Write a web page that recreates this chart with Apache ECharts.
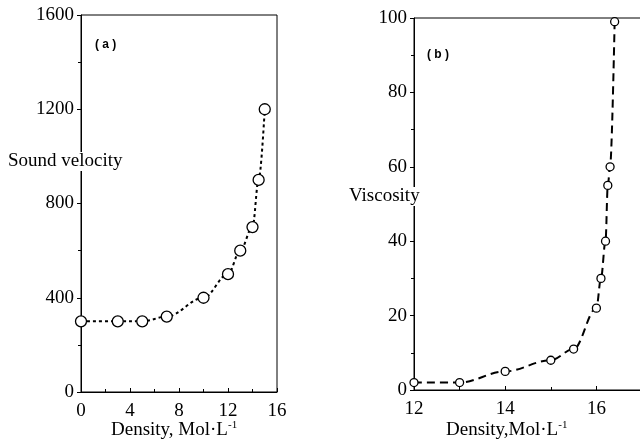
<!DOCTYPE html>
<html><head><meta charset="utf-8">
<script src="https://cdn.jsdelivr.net/npm/echarts/dist/echarts.min.js"></script>
<style>html,body{margin:0;padding:0;background:#fff}#c{width:640px;height:445px}</style>
</head><body><div id="c"></div>
<script>
// Panel (a): sound velocity vs density
const densityA = [0, 3, 5, 7, 10, 12, 13, 14, 14.5, 15];
const soundVelocity = [300, 300, 300, 320, 400, 500, 600, 700, 900, 1200];
// Panel (b): viscosity vs density
const densityB = [12, 13, 14, 15, 15.5, 16, 16.1, 16.2, 16.25, 16.3, 16.4];
const viscosity = [2, 2, 5, 8, 11, 22, 30, 40, 55, 60, 99];

const SERIF = 'Liberation Serif';
const black = '#000';
const plain = v => String(v);

function xAx(grid, min, max, interval, extraLabel) {
  return {
    gridIndex: grid, type: 'value', min: min, max: max, interval: interval,
    axisLine: {show: true, onZero: false, lineStyle: {color: black, width: 1}},
    axisTick: {show: true, inside: true, length: 4, lineStyle: {color: black}},
    minorTick: {show: true, splitNumber: 2, length: 3, lineStyle: {color: black}},
    axisLabel: Object.assign({color: black, fontFamily: SERIF, fontSize: 19, margin: 10, formatter: plain}, extraLabel || {}),
    splitLine: {show: false}, minorSplitLine: {show: false}
  };
}
function yAx(grid, min, max, interval) {
  return {
    gridIndex: grid, type: 'value', min: min, max: max, interval: interval,
    axisLine: {show: true, onZero: false, lineStyle: {color: black, width: 1}},
    axisTick: {show: true, inside: false, length: 4, lineStyle: {color: black}},
    minorTick: {show: true, splitNumber: 2, length: 3, lineStyle: {color: black}},
    axisLabel: {color: black, fontFamily: SERIF, fontSize: 19, margin: 7, formatter: plain},
    splitLine: {show: false}, minorSplitLine: {show: false}
  };
}

const chart = echarts.init(document.getElementById('c'), null, {renderer: 'canvas'});
chart.setOption({
  backgroundColor: '#fff',
  animation: false,
  grid: [
    {left: 81, top: 15, width: 196, height: 377, show: true, borderColor: black, borderWidth: 1, backgroundColor: 'transparent', outerBoundsMode: 'none', containLabel: false},
    {left: 414, top: 18, width: 228, height: 372, show: true, borderColor: black, borderWidth: 1, backgroundColor: 'transparent', outerBoundsMode: 'none', containLabel: false}
  ],
  xAxis: [
    xAx(0, 0, 16, 4),
    xAx(1, 12, 17, 2, {showMaxLabel: false})
  ],
  yAxis: [
    yAx(0, 0, 1600, 400),
    yAx(1, 0, 100, 20)
  ],
  series: [
    {
      type: 'line', xAxisIndex: 0, yAxisIndex: 0,
      data: densityA.map((x, i) => [x, soundVelocity[i]]),
      smooth: 0.35, smoothMonotone: 'x',
      lineStyle: {color: black, width: 2, type: [3, 3]},
      symbol: 'circle', symbolSize: 11,
      itemStyle: {color: '#fff', borderColor: black, borderWidth: 1.3},
      clip: false, z: 3
    },
    {
      type: 'line', xAxisIndex: 1, yAxisIndex: 1,
      data: densityB.map((x, i) => [x, viscosity[i]]),
      smooth: 0.35, smoothMonotone: 'x',
      lineStyle: {color: black, width: 2, type: [8, 5]},
      symbol: 'circle', symbolSize: 8,
      itemStyle: {color: '#fff', borderColor: black, borderWidth: 1.3},
      clip: false, z: 3
    }
  ],
  graphic: [
    {type: 'text', left: 8, top: 152, z: 100, style: {text: 'Sound velocity', fill: black, font: '19px "Liberation Serif"', backgroundColor: '#fff'}},
    {type: 'text', left: 95, top: 39, z: 100, style: {text: '( a )', fill: black, font: 'bold 12px "Liberation Sans"'}},
    {type: 'text', left: 349, top: 187, z: 100, style: {text: 'Viscosity', fill: black, font: '19px "Liberation Serif"', backgroundColor: '#fff'}},
    {type: 'text', left: 427, top: 49, z: 100, style: {text: '( b )', fill: black, font: 'bold 12px "Liberation Sans"'}},
    {type: 'text', left: 111, top: 420, z: 100, style: {
      text: 'Density, Mol·L{s|-1}', fill: black, font: '19px "Liberation Serif"',
      rich: {s: {fontSize: 11, fontFamily: SERIF, fill: black, verticalAlign: 'top', padding: [0, 0, 10, 0]}}
    }},
    {type: 'text', left: 446, top: 420, z: 100, style: {
      text: 'Density,Mol·L{s|-1}', fill: black, font: '19px "Liberation Serif"',
      rich: {s: {fontSize: 11, fontFamily: SERIF, fill: black, verticalAlign: 'top', padding: [0, 0, 10, 0]}}
    }}
  ]
});
</script>
</body></html>
